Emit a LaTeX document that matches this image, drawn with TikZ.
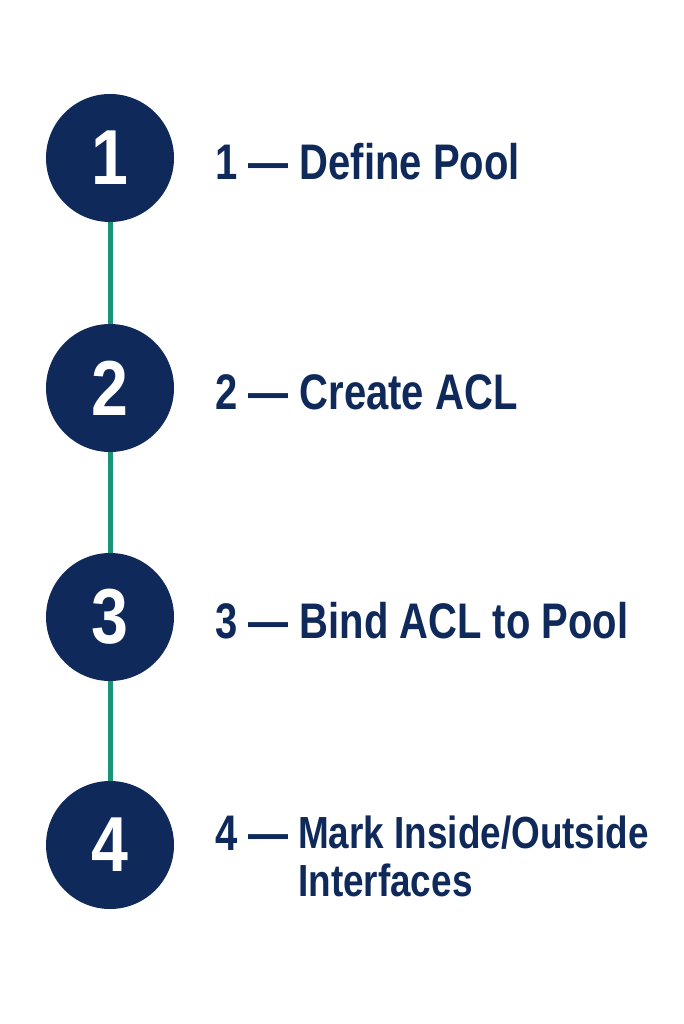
\documentclass[tikz,border=0pt]{standalone}
\usepackage{fontspec}
\setmainfont{Liberation Sans}
\definecolor{navy}{HTML}{0F2A5A}
\definecolor{teal}{HTML}{1A9478}
\begin{document}
\begin{tikzpicture}[x=1pt,y=-1pt,
  stepc/.style={circle,fill=navy,minimum size=128pt,inner sep=0pt,text=white,font=\fontsize{78}{80}\selectfont\bfseries},
  lbl/.style={anchor=west,text=navy,inner sep=0pt,font=\fontsize{50}{52}\selectfont\bfseries},
  lbls/.style={anchor=west,text=navy,inner sep=0pt,font=\fontsize{45}{47}\selectfont\bfseries},
  conn/.style={draw=teal,line width=5pt}]
\useasboundingbox (0,0) rectangle (683,1024);
\node[stepc] (c1) at (110,158) {\scalebox{0.85}[1]{1}};
\node[stepc] (c2) at (110,388) {\scalebox{0.85}[1]{2}};
\node[stepc] (c3) at (110,617) {\scalebox{0.85}[1]{3}};
\node[stepc] (c4) at (110,845) {\scalebox{0.85}[1]{4}};
\draw[conn] (c1) -- (c2);
\draw[conn] (c2) -- (c3);
\draw[conn] (c3) -- (c4);
\node[lbl] (t1) at (215,162) {\scalebox{0.8}[1]{1 — Define Pool}};
\node[lbl] (t2) at (215,392) {\scalebox{0.8}[1]{2 — Create ACL}};
\node[lbl] (t3) at (215,621) {\scalebox{0.8}[1]{3 — Bind ACL to Pool}};
\node[lbl] (t4) at (215,833) {\scalebox{0.8}[1]{4 —}};
\node[lbls] (t4a) at (298,833) {\scalebox{0.82}[1]{Mark Inside/Outside}};
\node[lbls] (t4b) at (298,880) {\scalebox{0.82}[1]{Interfaces}};
\end{tikzpicture}
\end{document}
